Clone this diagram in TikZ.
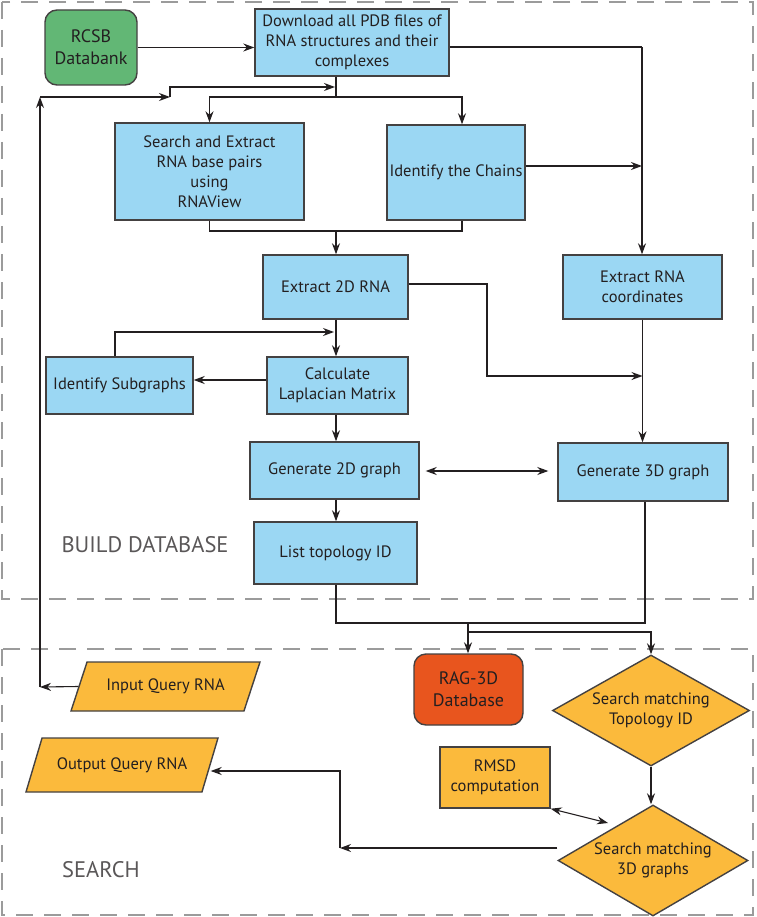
\documentclass[tikz,border=0pt]{standalone}
\usepackage{fontspec}
\setmainfont{PT Sans}
\usepackage{tikz}
\usetikzlibrary{shapes.geometric,arrows.meta}
\definecolor{boxblue}{HTML}{9BD7F3}
\definecolor{boxgreen}{HTML}{62B775}
\definecolor{boxorange}{HTML}{FBBA3C}
\definecolor{boxred}{HTML}{E8551E}
\definecolor{framegray}{HTML}{9B9B9B}
\definecolor{ink}{HTML}{231F20}
\tikzstyle{bluebox}=[rectangle,draw=ink!85,fill=boxblue,line width=1.4pt,
                     align=center,inner sep=2pt,text=ink,
                     font=\fontsize{16.5}{20}\selectfont]
\tikzstyle{roundbox}=[bluebox,rounded corners=12pt]
\tikzstyle{decision}=[diamond,draw=ink!85,fill=boxorange,line width=1.4pt,
                      aspect=1.8,inner sep=0pt,align=center,text=ink,
                      font=\fontsize{16.5}{20}\selectfont]
\tikzstyle{iobox}=[trapezium,trapezium left angle=50,trapezium right angle=130,
                   trapezium stretches body,draw=ink!85,fill=boxorange,
                   line width=1.4pt,inner sep=2pt,text=ink,
                   font=\fontsize{16.5}{20}\selectfont]
\tikzstyle{arr}=[-{Stealth[length=11pt,width=8pt]},line width=1.1pt,draw=ink]
\tikzstyle{dbl}=[{Stealth[length=11pt,width=8pt]}-{Stealth[length=11pt,width=8pt]},
                 line width=1.1pt,draw=ink]
\tikzstyle{link}=[line width=1.1pt,draw=ink]
\tikzstyle{frame}=[draw=framegray,line width=2.5pt,dash pattern=on 17pt off 11pt]
\tikzstyle{stage}=[text=ink!75,font=\fontsize{22.5}{26}\selectfont]

\begin{document}
\begin{tikzpicture}[x=1pt,y=-1pt]
    \useasboundingbox (0,0) rectangle (756,917);
    % frames
    \draw[frame] (2,2) rectangle (753,599);
    \draw[frame] (2,649) rectangle (753,915);
    \node (lbuild) at (145,545) [stage]{BUILD DATABASE};
    \node (lsearch) at (101,870) [stage]{SEARCH};
    % build database
    \node (rcsb) at (91,47.5) [roundbox,fill=boxgreen,minimum width=92pt,minimum height=75pt,font=\fontsize{18}{22}\selectfont]{RCSB\\Databank};
    \node (pdb) at (352,42.5) [bluebox,minimum width=194pt,minimum height=67pt]{Download all PDB files of\\RNA structures and their\\complexes};
    \node (srch) at (209.5,171.5) [bluebox,minimum width=189pt,minimum height=97pt]{Search and Extract\\RNA base pairs\\using\\RNAView};
    \node (chains) at (456,172.5) [bluebox,minimum width=138pt,minimum height=95pt]{Identify the Chains};
    \node (ext2d) at (335.5,287) [bluebox,minimum width=145pt,minimum height=64pt]{Extract 2D RNA};
    \node (coords) at (642.5,287) [bluebox,minimum width=159pt,minimum height=64pt]{Extract RNA\\coordinates};
    \node (subg) at (119.5,385.5) [bluebox,minimum width=147pt,minimum height=57pt]{Identify Subgraphs};
    \node (lapl) at (337.5,385.5) [bluebox,minimum width=141pt,minimum height=57pt]{Calculate\\Laplacian Matrix};
    \node (gen2d) at (334.5,470.5) [bluebox,minimum width=169pt,minimum height=57pt]{Generate 2D graph};
    \node (gen3d) at (643,472) [bluebox,minimum width=170pt,minimum height=58pt]{Generate 3D graph};
    \node (topo) at (335.5,553) [bluebox,minimum width=163pt,minimum height=62pt]{List topology ID};
    % search
    \node (rag) at (468.5,689.5) [roundbox,fill=boxred,minimum width=109pt,minimum height=71pt,font=\fontsize{18}{22}\selectfont]{RAG-3D\\Database};
    \node (dtopo) at (651,710.5) [decision,minimum width=197pt,minimum height=111pt]{Search matching\\Topology ID};
    \node (d3d) at (653,860.5) [decision,minimum width=190pt,minimum height=111pt]{Search matching\\3D graphs};
    \node (rmsd) at (495,777.5) [bluebox,fill=boxorange,minimum width=110pt,minimum height=61pt]{RMSD\\computation};
    \node (input) at (165.5,686.5) [iobox,minimum width=189pt,minimum height=49pt]{Input Query RNA};
    \node (output) at (122,765) [iobox,minimum width=192pt,minimum height=54pt]{Output Query RNA};
    % helper points
    \coordinate (rt) at (642,47);
    \coordinate (sp) at (336,97);
    \coordinate (jn) at (336,231);
    \coordinate (bend) at (487,376);
    \coordinate (loop) at (40,687);
    \coordinate (up) at (40,97);
    \coordinate (step) at (170,97);
    \coordinate (sub) at (115,332);
    \coordinate (bot) at (336,623);
    \coordinate (fork) at (468,632);
    \coordinate (ret) at (340,848);
    % connectors
    \draw[arr] (rcsb.east) -- (rcsb.east -| pdb.west);
    \draw[link] (pdb.east |- rt) -- (rt);
    \draw[arr] (rt) -- (rt |- coords.north);
    \draw[link] (pdb.south -| sp) -- (sp);
    \draw[arr] (sp) -| (srch.north);
    \draw[arr] (sp) -| (462,97) -- (chains.north -| 462,0);
    \draw[arr] (chains.east |- 0,166) -- (642,166);
    \draw[link] (srch.south) |- (jn) -| (chains.south -| 462,0);
    \draw[arr] (jn) -- (ext2d.north -| jn);
    \draw[arr] (ext2d.east |- 0,284) -| (bend) -- (bend -| coords.south);
    \draw[arr] (coords.south) -- (gen3d.north -| coords.south);
    \draw[arr] (ext2d.south -| jn) -- (lapl.north -| jn);
    \draw[arr] (lapl.west |- 0,380) -- (subg.east |- 0,380);
    \draw[arr] (subg.north -| sub) |- (334,332);
    \draw[arr] (lapl.south -| jn) -- (gen2d.north -| jn);
    \draw[dbl, shorten <=6pt, shorten >=9pt] (gen2d.east |- 0,471) -- (gen3d.west |- 0,471);
    \draw[arr] (gen2d.south -| jn) -- (topo.north -| jn);
    \draw[link] (topo.south -| bot) -- (bot) -| (gen3d.south -| 645,0);
    \draw[arr] (fork |- bot) -- (rag.north -| fork);
    \draw[arr] (fork) -| (dtopo.north);
    \draw[arr] (dtopo.south) -- (d3d.north -| dtopo.south);
    \draw[dbl] (rmsd.south east) -- (608,823);
    \draw[arr] (d3d.west |- ret) -- (ret);
    \draw[arr] (ret) |- (output.east |- 0,771);
    \draw[arr] (input.west) -- (loop);
    \draw[arr] (loop) -- (up);
    \draw[arr] (up) -- (step);
    \draw[arr] (step) |- (335,87);
\end{tikzpicture}
\end{document}
